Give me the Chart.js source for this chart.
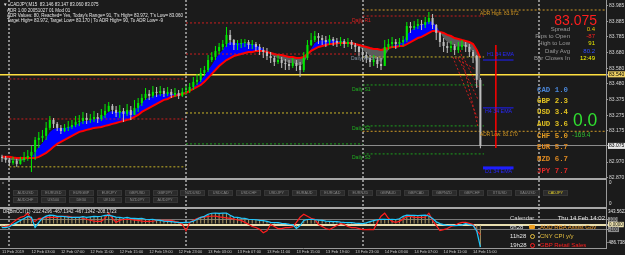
<!DOCTYPE html>
<html>
<head>
<meta charset="utf-8">
<title>CADJPY,M15</title>
<script src="https://cdn.jsdelivr.net/npm/chart.js@4.4.1/dist/chart.umd.min.js"></script>
<style>
  html, body { margin: 0; padding: 0; background: #1b1b1b; }
  #wrap { position: relative; width: 625px; height: 255px; overflow: hidden; background: #1b1b1b; }
  #chart { position: absolute; left: 0; top: 0; }
  .t { position: absolute; white-space: nowrap; line-height: 1; font-family: "Liberation Sans", Arial, sans-serif; color: #e6e6e6; }
  .mono { font-family: "Liberation Mono", "DejaVu Sans Mono", monospace; font-weight: bold; }
  .btn { position: absolute; width: 25px; height: 6px; box-sizing: border-box; background: #2b2b2b; border: 1px solid #363636;
         color: #8a8a8a; font: 3.8px/4px "Liberation Sans", Arial, sans-serif; text-align: center; white-space: nowrap; overflow: hidden; }
  .ico { position: absolute; box-sizing: border-box; }
</style>
</head>
<body>
<div id="wrap">
  <canvas id="chart" width="625" height="255"></canvas>

  <!-- header text -->
  <div class="t" style="left:3px;top:2.8px;font-size:4.5px">&#9660;</div>
  <div class="t" style="left:10px;top:2.8px;font-size:4.5px">CADJPY,M15&nbsp; 83.146 83.147 83.060 83.075</div>
  <div class="t" style="left:7px;top:8.8px;font-size:4.5px">ADR 1.00 20051027 01 Mod 01</div>
  <div class="t" style="left:7px;top:13.8px;font-size:4.5px">ADR Values: 80, Reached= Yes, Today's Range= 91, T's High= 83.972, T's Low= 83.060</div>
  <div class="t" style="left:7px;top:18.8px;font-size:4.5px">Target High= 83.972, Target Low= 83.170 | To ADR High= 90, To ADR Low= -9</div>

  <!-- price info -->
  <div class="t" style="right:28px;top:13px;font-size:14px;color:#ff1e1e">83.075</div>
  <div class="t" style="right:55px;top:26px;font-size:6px;color:#9a9a9a">Spread</div>
  <div class="t" style="right:55px;top:33px;font-size:6px;color:#9a9a9a">Pips to Open</div>
  <div class="t" style="right:55px;top:40px;font-size:6px;color:#9a9a9a">High to Low</div>
  <div class="t" style="right:55px;top:48px;font-size:6px;color:#9a9a9a">Daily Avg</div>
  <div class="t" style="right:55px;top:55px;font-size:6px;color:#9a9a9a">Bar Closes In</div>
  <div class="t" style="right:30px;top:26px;font-size:6px;color:#e8c000">0.4</div>
  <div class="t" style="right:30px;top:33px;font-size:6px;color:#ff2020">-87</div>
  <div class="t" style="right:30px;top:40px;font-size:6px;color:#e8e800">91</div>
  <div class="t" style="right:30px;top:48px;font-size:6px;color:#3050ff">80.2</div>
  <div class="t" style="right:30px;top:55px;font-size:6px;color:#ffff00">12:49</div>

  <div id="strength"></div>
  <div class="t" style="left:573px;top:112.4px;font-size:17.5px;color:#30e030">0.0</div>
  <div class="t" style="left:572px;top:131.8px;font-size:6.5px;color:#30c030">-169.4</div>

  <!-- level labels -->
  <div class="t" style="left:480px;top:11.6px;font-size:4.8px;color:#d89a20">ADR High: 83.972</div>
  <div class="t" style="left:480px;top:132.6px;font-size:4.8px;color:#d89a20">ADR Low: 83.170</div>
  <div class="t" style="left:352px;top:17.5px;font-size:5px;color:#e02020">Daily R1</div>
  <div class="t" style="left:351px;top:55.5px;font-size:5px;color:#8494a4">Daily Pivot</div>
  <div class="t" style="left:352px;top:86.5px;font-size:5px;color:#20b020">Daily S1</div>
  <div class="t" style="left:352px;top:125.5px;font-size:5px;color:#20b020">Daily S2</div>
  <div class="t" style="left:352px;top:154.5px;font-size:5px;color:#20b020">Daily S3</div>
  <div class="t" style="left:487px;top:52.4px;font-size:5.3px;color:#2828ff">H1 34 EMA</div>
  <div class="t" style="left:485px;top:109.4px;font-size:5.3px;color:#2828ff">H4 34 EMA</div>
  <div class="t" style="left:485px;top:169.4px;font-size:5.3px;color:#2828ff">D1 34 EMA</div>

  <!-- symbol buttons panel -->
  <div class="t" style="left:2px;top:181px;font-size:4px;color:#c0c0c0">x</div>
  <div id="buttons"></div>
  <div class="t" style="left:609px;top:181px;font-size:4.5px">0</div>
  <div class="t" style="left:609px;top:202px;font-size:4.5px">0</div>

  <!-- CCI pane -->
  <div class="t" style="left:3px;top:209.7px;font-size:4.5px">DRBinCCI (1) -212.4296 -467.1342 -467.1342 -208.1723</div>
  <div class="t" style="left:608px;top:209.5px;font-size:4.5px">343.5622</div>
  <div class="t" style="left:607px;top:240.5px;font-size:4.5px">-486.738</div>

  <!-- calendar -->
  <div class="t" style="left:510px;top:215px;font-size:6px;color:#d8d8d8">Calendar</div>
  <div class="t" style="right:20px;top:215px;font-size:6px;color:#ececec">Thu 14 Feb 14:02</div>
  <div class="t" style="left:510px;top:224px;font-size:6px">6h28</div>
  <div class="ico" style="left:529px;top:225px;width:6px;height:4px;background:#f0a020;border-radius:1px"></div>
  <div class="t" style="left:540px;top:224px;font-size:6px;color:#f0a030">AUD RBA Assist Gov</div>
  <div class="t" style="left:510px;top:233px;font-size:6px">11h28</div>
  <div class="ico" style="left:530px;top:233.5px;width:5px;height:5px;border:1px solid #e8c040;border-radius:50%"></div>
  <div class="t" style="left:540px;top:233px;font-size:6px;color:#e8c040">CNY CPI y/y</div>
  <div class="t" style="left:510px;top:242px;font-size:6px">19h28</div>
  <div class="ico" style="left:530px;top:242.5px;width:5px;height:5px;border:1px solid #ff2020;border-radius:50%"></div>
  <div class="t" style="left:540px;top:242px;font-size:6px;color:#ff2020">GBP Retail Sales</div>
</div>

<script>
const opens = [83.004,82.997,82.984,82.965,82.978,82.958,82.984,82.997,83.010,83.036,
  83.114,83.127,83.140,83.192,83.244,83.218,83.192,83.172,83.192,83.198,
  83.211,83.231,83.237,83.257,83.244,83.250,83.263,83.250,83.276,83.302,
  83.335,83.309,83.289,83.302,83.283,83.309,83.276,83.322,83.354,83.387,
  83.413,83.400,83.426,83.419,83.432,83.413,83.426,83.406,83.419,83.400,
  83.426,83.432,83.458,83.491,83.504,83.549,83.568,83.633,83.653,83.692,
  83.718,83.737,83.796,83.763,83.731,83.737,83.744,83.750,83.731,83.737,
  83.718,83.698,83.685,83.659,83.646,83.620,83.633,83.614,83.607,83.594,
  83.614,83.594,83.568,83.646,83.731,83.763,83.789,83.776,83.763,83.750,
  83.770,83.757,83.744,83.757,83.737,83.750,83.731,83.718,83.685,83.666,
  83.646,83.620,83.633,83.607,83.594,83.718,83.737,83.750,83.737,83.750,
  83.763,83.854,83.841,83.854,83.867,83.861,83.880,83.906,83.861,83.809,
  83.750,83.724,83.711,83.724,83.698,83.718,83.731,83.718,83.685,83.659,
  83.504];
const closes = [82.997,82.984,82.965,82.978,82.958,82.984,82.997,83.010,83.036,83.114,
  83.127,83.140,83.192,83.244,83.218,83.192,83.172,83.192,83.198,83.211,
  83.231,83.237,83.257,83.244,83.250,83.263,83.250,83.276,83.302,83.335,
  83.309,83.289,83.302,83.283,83.309,83.276,83.322,83.354,83.387,83.413,
  83.400,83.426,83.419,83.432,83.413,83.426,83.406,83.419,83.400,83.426,
  83.432,83.458,83.491,83.504,83.549,83.568,83.633,83.653,83.692,83.718,
  83.737,83.796,83.763,83.731,83.737,83.744,83.750,83.731,83.737,83.718,
  83.698,83.685,83.659,83.646,83.620,83.633,83.614,83.607,83.594,83.614,
  83.594,83.568,83.646,83.731,83.763,83.789,83.776,83.763,83.750,83.770,
  83.757,83.744,83.757,83.737,83.750,83.731,83.718,83.685,83.666,83.646,
  83.620,83.633,83.607,83.594,83.718,83.737,83.750,83.737,83.750,83.763,
  83.854,83.841,83.854,83.867,83.861,83.880,83.906,83.861,83.809,83.750,
  83.724,83.711,83.724,83.698,83.718,83.731,83.718,83.685,83.659,83.504,
  83.075];
const highs = [83.017,83.010,82.997,83.004,82.991,83.004,83.036,83.049,83.075,83.133,
  83.166,83.179,83.231,83.270,83.257,83.231,83.211,83.218,83.237,83.244,
  83.270,83.276,83.296,83.289,83.283,83.302,83.289,83.315,83.348,83.361,
  83.348,83.335,83.341,83.322,83.348,83.335,83.374,83.387,83.413,83.452,
  83.439,83.465,83.458,83.465,83.452,83.458,83.445,83.452,83.439,83.452,
  83.465,83.484,83.523,83.543,83.581,83.594,83.666,83.685,83.724,83.744,
  83.763,83.848,83.828,83.770,83.763,83.770,83.770,83.763,83.763,83.750,
  83.737,83.718,83.711,83.685,83.659,83.666,83.653,83.640,83.633,83.646,
  83.633,83.620,83.685,83.763,83.809,83.822,83.809,83.796,83.789,83.796,
  83.783,83.776,83.783,83.770,83.776,83.763,83.744,83.724,83.711,83.685,
  83.666,83.666,83.653,83.646,83.763,83.770,83.783,83.770,83.776,83.789,
  83.880,83.880,83.887,83.900,83.893,83.913,83.945,83.932,83.867,83.815,
  83.776,83.750,83.757,83.737,83.750,83.763,83.750,83.737,83.698,83.666,
  83.517];
const lows = [82.971,82.965,82.945,82.952,82.939,82.952,82.971,82.978,82.906,82.984,
  83.062,83.101,83.114,83.179,83.192,83.172,83.153,83.166,83.172,83.185,
  83.198,83.205,83.218,83.218,83.224,83.231,83.224,83.237,83.257,83.296,
  83.283,83.263,83.257,83.231,83.270,83.244,83.276,83.296,83.335,83.374,
  83.374,83.387,83.393,83.400,83.393,83.400,83.387,83.393,83.380,83.393,
  83.406,83.419,83.439,83.471,83.491,83.530,83.555,83.620,83.633,83.672,
  83.698,83.718,83.731,83.698,83.698,83.711,83.718,83.705,83.705,83.692,
  83.666,83.646,83.633,83.614,83.594,83.607,83.581,83.568,83.568,83.581,
  83.562,83.523,83.555,83.633,83.724,83.750,83.737,83.731,83.718,83.731,
  83.724,83.718,83.724,83.711,83.718,83.705,83.685,83.659,83.633,83.614,
  83.588,83.594,83.581,83.568,83.594,83.698,83.711,83.705,83.718,83.724,
  83.750,83.809,83.828,83.835,83.828,83.841,83.867,83.835,83.763,83.718,
  83.685,83.679,83.685,83.666,83.679,83.698,83.685,83.653,83.614,83.452,
  83.060];

// moving averages: fast edge of the blue/grey cloud and the red slow line
const fastMa = [82.991,82.991,82.984,82.984,82.978,82.978,82.984,82.991,82.997,83.036,
  83.069,83.094,83.127,83.166,83.185,83.192,83.192,83.192,83.198,83.205,
  83.211,83.224,83.237,83.237,83.244,83.250,83.250,83.263,83.276,83.296,
  83.302,83.296,83.296,83.296,83.302,83.296,83.309,83.328,83.354,83.380,
  83.387,83.400,83.406,83.413,83.413,83.419,83.413,83.413,83.413,83.419,
  83.426,83.439,83.458,83.478,83.504,83.530,83.568,83.601,83.640,83.672,
  83.698,83.737,83.750,83.744,83.744,83.744,83.744,83.737,83.737,83.731,
  83.718,83.705,83.685,83.672,83.653,83.646,83.633,83.627,83.614,83.614,
  83.607,83.594,83.614,83.659,83.705,83.744,83.757,83.763,83.757,83.763,
  83.763,83.757,83.757,83.750,83.750,83.744,83.737,83.718,83.698,83.679,
  83.659,83.646,83.633,83.620,83.659,83.698,83.724,83.731,83.737,83.750,
  83.796,83.822,83.841,83.854,83.861,83.874,83.887,83.880,83.854,83.815,
  83.776,83.750,83.737,83.724,83.718,83.724,83.724,83.711,83.685,83.607,
  83.374];
const slowMa = [83.004,83.004,83.004,83.000,82.997,82.997,82.997,82.997,82.997,82.997,
  83.004,83.017,83.030,83.049,83.069,83.088,83.101,83.114,83.127,83.140,
  83.153,83.166,83.172,83.179,83.185,83.192,83.195,83.198,83.205,83.211,
  83.218,83.224,83.231,83.237,83.244,83.250,83.263,83.276,83.296,83.309,
  83.322,83.335,83.348,83.361,83.374,83.380,83.393,83.400,83.406,83.413,
  83.419,83.432,83.445,83.458,83.471,83.491,83.517,83.543,83.568,83.594,
  83.614,83.633,83.646,83.659,83.666,83.672,83.679,83.685,83.685,83.692,
  83.692,83.692,83.685,83.679,83.672,83.666,83.666,83.659,83.653,83.653,
  83.646,83.646,83.653,83.672,83.692,83.705,83.718,83.724,83.731,83.737,
  83.737,83.744,83.744,83.744,83.744,83.744,83.737,83.731,83.724,83.718,
  83.711,83.705,83.705,83.698,83.705,83.711,83.718,83.718,83.724,83.724,
  83.737,83.750,83.763,83.776,83.783,83.796,83.809,83.822,83.822,83.815,
  83.809,83.796,83.789,83.776,83.770,83.763,83.757,83.750,83.737,83.698,
  83.646];

// DRBinCCI pane
const cciMain = [-62,-62,-45,0,40,85,125,170,150,-60,
  45,130,175,195,190,170,172,165,155,150,
  150,148,165,150,160,170,165,172,190,195,
  175,155,150,135,150,130,128,125,130,110,
  105,110,90,85,70,65,60,50,45,42,
  45,48,70,110,150,170,215,235,238,232,
  236,240,195,155,150,135,128,110,105,100,
  88,80,65,45,40,38,25,20,5,0,
  -80,-20,85,105,110,100,90,85,70,65,
  60,62,50,45,42,40,30,25,20,35,
  60,80,100,110,108,105,110,105,120,170,
  195,192,190,188,192,195,178,125,60,20,
  0,-20,-15,-22,-18,-5,20,0,-20,-130,
  -467.13];
const cciSignal = [-60,-40,-20,45,105,150,172,236,88,65,
  130,128,150,152,148,150,170,172,168,155,
  150,152,130,110,90,68,65,66,130,236,
  130,45,88,105,110,108,90,85,70,66,
  65,68,85,88,86,88,87,65,45,0,
  -126,45,88,125,150,155,170,172,173,160,
  150,140,130,115,95,87,45,5,-40,-62,
  -100,-170,-130,2,-40,-83,-85,-65,-62,-45,
  45,151,215,172,130,109,2,-40,-83,-104,
  -62,-19,23,2,-40,-62,-62,-83,-104,-104,
  -100,-104,45,173,236,130,66,45,66,109,
  173,170,151,150,151,152,236,87,-19,-126,
  -104,-83,-40,-19,23,45,45,23,2,-126,
  -208.17];
const cciLevels = [100, 0, -100];
const cciMin = -486.738, cciMax = 343.5622;

// axes
const priceTicks = [83.985, 83.885, 83.785, 83.680, 83.580, 83.540, 83.480, 83.375, 83.275, 83.175, 83.075, 82.970, 82.870];
const bidPrice = 83.075;
const linePrice = 83.540;
const timeTickIdx = [0, 8, 16, 24, 32, 40, 48, 56, 64, 72, 80, 88, 96, 104, 112, 120, 128];
const timeLabels = ['11 Feb 2019', '12 Feb 03:00', '12 Feb 07:00', '12 Feb 11:00', '12 Feb 15:00', '12 Feb 19:00',
  '12 Feb 23:00', '13 Feb 03:00', '13 Feb 07:00', '13 Feb 11:00', '13 Feb 15:00', '13 Feb 19:00', '13 Feb 23:00',
  '14 Feb 03:00', '14 Feb 07:00', '14 Feb 11:00', '14 Feb 15:00'];
const daySepIdx = [2, 50, 98, 146];

// pivot / ADR / MTF EMA levels
const dayRanges = [[2, 50], [50, 98], [98, 131]];
const day12Levels = [83.510, 83.250, 82.939];
const day13Levels = [83.874, 83.672, 83.289, 83.088];
const day14Levels = [83.919, 83.653, 83.471, 83.205, 83.023];
const adrLevels = [83.958, 83.170];
const adrRange = [98, 164];
const emaLevels = [83.633, 83.322, 82.932];
const emaRange = [130.7, 139];
const trendFrom = [[122.5, 83.653], [123.9, 83.653], [125.3, 83.653], [123.1, 83.646], [124.5, 83.698]];
const trendTo = [[129.4, 83.244], [129.4, 83.374], [129.4, 83.458], [129.1, 83.568], [129.4, 83.192]];
const rangeLine = [[134.2, 83.731], [134.2, 83.062]];

// symbol buttons and currency strength
const buttonsRow1 = ['AUDUSD', 'EURUSD', 'EURGBP', 'EURJPY', 'GBPUSD', 'GBPJPY', 'NZDUSD', 'USDCAD', 'USDCHF', 'USDJPY',
  'EURAUD', 'EURCAD', 'EURNZD', 'GBPAUD', 'GBPCAD', 'GBPNZD', 'GBPCHF', 'XTIUSD', 'XAUUSD', 'CADJPY'];
const buttonsRow2 = ['AUDCHF', 'US500', 'DE30', 'UK100', 'NZDJPY', 'AUDJPY'];
const strengthCcy = ['CAD', 'GBP', 'USD', 'AUD', 'CHF', 'EUR', 'NZD', 'JPY'];
const strengthVal = [1.0, 2.3, 3.4, 3.6, 5.0, 5.7, 6.7, 7.7];

// ---------------------------------------------------------------------------

const FONT = '"Liberation Sans", Arial, sans-serif';
const UP = '#00e800';
const DOWN = '#bdbdbd';
const RED_DOT = '#c81e1e';
const YEL_DOT = '#c8b428';
const GRN_DOT = '#1ea01e';
const ORG_DOT = '#d09a28';
const X_MIN = -0.543;
const X_MAX = X_MIN + 606 / 3.68;

// HTML widgets
const btnNode = document.getElementById('buttons');
[buttonsRow1, buttonsRow2].forEach((row, r) => {
  row.forEach((name, k) => {
    const b = document.createElement('div');
    b.className = 'btn';
    b.style.left = (13 + k * 27.9) + 'px';
    b.style.top = (190 + r * 7) + 'px';
    if (name === 'CADJPY') { b.style.color = '#e6d22a'; }
    b.textContent = name;
    btnNode.appendChild(b);
  });
});

const ccyColors = ['#4a86d8', '#e0c020', '#e0c020', '#e0c020', '#e09a20', '#e08a20', '#e08a20', '#e02828'];
const strNode = document.getElementById('strength');
strengthCcy.forEach((ccy, k) => {
  const d = document.createElement('div');
  d.className = 't mono';
  d.style.left = '537px';
  d.style.top = [87.3, 98.3, 109.3, 121.3, 133.3, 144.3, 156.3, 168.3][k] + 'px';
  d.style.fontSize = '7.4px';
  d.style.color = ccyColors[k];
  d.textContent = ccy + '  ' + strengthVal[k].toFixed(1);
  strNode.appendChild(d);
});

// datasets
const idx = closes.map((c, i) => i);
const candleColor = (ctx) => closes[ctx.dataIndex] >= opens[ctx.dataIndex] ? UP : DOWN;

function segment(points, color, extra) {
  return Object.assign({
    type: 'line', yAxisID: 'yMain', data: points.map(p => ({x: p[0], y: p[1]})),
    borderColor: color, borderWidth: 1, borderDash: [2, 2], pointRadius: 0, fill: false, order: 2
  }, extra || {});
}

const datasets = [
  {
    type: 'bar', label: 'body', yAxisID: 'yMain',
    data: idx.map(i => ({x: i, y: [opens[i], closes[i]]})),
    backgroundColor: candleColor, grouped: false, categoryPercentage: 1, barPercentage: 0.56, minBarLength: 1, order: 0
  },
  {
    type: 'bar', label: 'wick', yAxisID: 'yMain',
    data: idx.map(i => ({x: i, y: [lows[i], highs[i]]})),
    backgroundColor: candleColor, grouped: false, categoryPercentage: 1, barPercentage: 0.28, order: 1
  },
  {
    type: 'line', label: 'slow', yAxisID: 'yMain',
    data: idx.map(i => ({x: i, y: slowMa[i]})),
    borderColor: '#ff0000', borderWidth: 2, pointRadius: 0, tension: 0, order: 3
  },
  {
    type: 'line', label: 'fast', yAxisID: 'yMain',
    data: idx.map(i => ({x: i, y: fastMa[i]})),
    borderColor: 'transparent', borderWidth: 0, pointRadius: 0, tension: 0,
    fill: {target: 2, above: '#0000ff', below: '#5c5c5c'}, order: 4
  }
];

// pivots of the three days
const dayColors = [[RED_DOT, RED_DOT, YEL_DOT], [RED_DOT, RED_DOT, YEL_DOT, GRN_DOT], [RED_DOT, YEL_DOT, GRN_DOT, GRN_DOT, GRN_DOT]];
[day12Levels, day13Levels, day14Levels].forEach((levels, d) => {
  levels.forEach((p, k) => datasets.push(segment([[dayRanges[d][0], p], [dayRanges[d][1], p]], dayColors[d][k])));
});
adrLevels.forEach(p => datasets.push(segment([[adrRange[0], p], [adrRange[1], p]], ORG_DOT)));
emaLevels.forEach((p, k) => datasets.push(segment([[emaRange[0], p], [emaRange[1], p]], '#1e1eff',
  {borderDash: [], borderWidth: k === 2 ? 3 : 1})));
trendFrom.forEach((p, k) => datasets.push(segment([p, trendTo[k]], '#c81e1e')));
datasets.push(segment(rangeLine, '#ff0000', {borderDash: [], borderWidth: 1.5}));

// CCI
datasets.push(
  {type: 'line', label: 'cci', yAxisID: 'yCci', data: idx.map(i => ({x: i, y: cciMain[i]})),
    borderColor: '#1ec8ff', borderWidth: 1.2, pointRadius: 0, order: 6},
  {type: 'line', label: 'cci signal', yAxisID: 'yCci', data: idx.map(i => ({x: i, y: cciSignal[i]})),
    borderColor: '#ff1e1e', borderWidth: 1.2, pointRadius: 0, order: 7},
  {type: 'bar', label: 'cci hist', yAxisID: 'yCci', data: idx.map(i => ({x: i, y: cciMain[i]})),
    backgroundColor: '#a08e5e', grouped: false, categoryPercentage: 1, barPercentage: 0.3, order: 8}
);

const fitAxis = (s) => { s.width = 19; s.paddingTop = 0; s.paddingBottom = 0; };
const isMarked = (v) => v === linePrice || v === bidPrice;

// pane separators like the terminal draws them
const paneSeparators = {
  id: 'paneSeparators',
  afterDatasetsDraw(chart) {
    const {ctx, chartArea, scales} = chart;
    ctx.save();
    ctx.fillStyle = '#a8a8a8';
    [scales.yMain.bottom, scales.yBtn.bottom].forEach(y => {
      ctx.fillRect(chartArea.left, Math.round(y) - 1, chartArea.right - chartArea.left, 2);
    });
    ctx.restore();
  }
};

new Chart(document.getElementById('chart'), {
  type: 'line',
  data: {datasets},
  options: {
    responsive: false,
    animation: false,
    devicePixelRatio: 1,
    events: [],
    layout: {padding: 0},
    plugins: {legend: {display: false}, tooltip: {enabled: false}},
    scales: {
      x: {
        type: 'linear', position: 'bottom', min: X_MIN, max: X_MAX, offset: false,
        afterBuildTicks: (s) => {
          s.ticks = [...new Set([...timeTickIdx, ...daySepIdx])].sort((a, b) => a - b).map(v => ({value: v}));
        },
        afterFit: (s) => { s.height = 7; s.paddingLeft = 0; s.paddingRight = 0; },
        ticks: {
          autoSkip: false, maxRotation: 0, minRotation: 0, align: 'start', padding: 1,
          color: '#c8c8c8', font: {size: 4, family: FONT},
          callback: (v) => { const k = timeTickIdx.indexOf(v); return k < 0 ? '' : timeLabels[k]; }
        },
        grid: {
          offset: false, drawTicks: false, lineWidth: 2,
          color: (c) => daySepIdx.includes(c.tick.value) ? '#8a8a8a' : 'transparent'
        },
        border: {display: true, color: '#9a9a9a', dash: [2, 2]}
      },
      yMain: {
        type: 'linear', position: 'right', stack: 'panes', stackWeight: 179, min: 82.860, max: 84.023,
        afterBuildTicks: (s) => { s.ticks = priceTicks.map(v => ({value: v})); },
        afterFit: fitAxis,
        ticks: {
          autoSkip: false, padding: 1, font: {size: 5, family: FONT},
          color: (c) => isMarked(c.tick.value) ? '#000000' : '#d8d8d8',
          callback: (v) => v.toFixed(3),
          showLabelBackdrop: (c) => isMarked(c.tick.value),
          backdropColor: (c) => c.tick.value === linePrice ? '#f0d264' : '#e6e6e6',
          backdropPadding: {x: 1, y: 0}
        },
        grid: {
          tickLength: 2, tickColor: '#9a9a9a',
          color: (c) => c.tick.value === linePrice ? '#ffe040' : (c.tick.value === bidPrice ? '#8c8c8c' : 'transparent'),
          lineWidth: (c) => c.tick.value === linePrice ? 1.5 : 1
        },
        border: {color: '#9a9a9a'}
      },
      yBtn: {
        type: 'linear', position: 'right', stack: 'panes', stackWeight: 29, min: 0, max: 1,
        afterFit: fitAxis,
        ticks: {display: false},
        grid: {display: false},
        border: {color: '#9a9a9a'}
      },
      yCci: {
        type: 'linear', position: 'right', stack: 'panes', stackWeight: 40, min: cciMin, max: cciMax,
        afterBuildTicks: (s) => { s.ticks = cciLevels.map(v => ({value: v})); },
        afterFit: fitAxis,
        ticks: {
          autoSkip: false, padding: 1, font: {size: 4.5, family: FONT}, color: '#111111',
          callback: (v) => v === 0 ? '0.0000' : String(v),
          showLabelBackdrop: true,
          backdropColor: (c) => c.tick.value === 0 ? '#efe4b0' : '#8c8c8c',
          backdropPadding: {x: 1, y: 0}
        },
        grid: {
          tickLength: 2, tickColor: '#9a9a9a',
          color: (c) => c.tick.value === 0 ? '#e9dfb0' : '#7a7a7a',
          lineWidth: (c) => c.tick.value === 0 ? 2 : 1
        },
        border: {color: '#9a9a9a'}
      }
    }
  },
  plugins: [paneSeparators]
});
</script>
</body>
</html>
